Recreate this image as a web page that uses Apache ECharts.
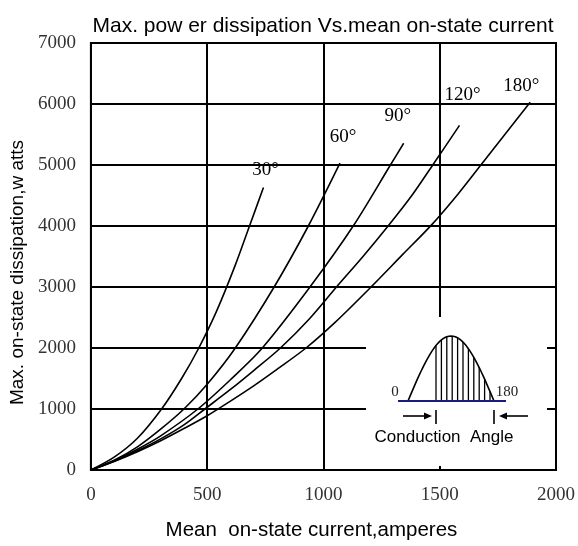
<!DOCTYPE html>
<html>
<head>
<meta charset="utf-8">
<script src="https://cdn.jsdelivr.net/npm/echarts@6/dist/echarts.min.js"></script>
<style>html,body{margin:0;padding:0;background:#fff}#c{width:578px;height:546px}</style>
</head>
<body>
<div id="c"></div>
<script>
// ---- data (current A, power W) ----
const seriesNames = ['30°', '60°', '90°', '120°', '180°'];
const curve30 = [[0,0],[100,210],[200,520],[304,1000],[390,1500],[464,2000],[540,2600],[620,3350],[682,4000],[742,4630]];
const curve60 = [[0,0],[100,160],[200,380],[300,670],[400,1000],[500,1405],[621,2000],[788,3000],[935,4000],[1071,5030]];
const curve90 = [[0,0],[100,150],[200,340],[300,560],[460,1000],[600,1480],[737,2000],[942,3000],[1128,4000],[1288,5000],[1345,5356]];
const curve120 = [[0,0],[100,145],[200,315],[300,510],[400,740],[490,1000],[600,1320],[700,1630],[815,2000],[940,2480],[1056,3000],[1170,3500],[1278,4000],[1380,4500],[1470,5000],[1585,5649]];
const curve180 = [[0,0],[100,140],[200,300],[300,480],[400,680],[500,890],[600,1130],[700,1380],[800,1650],[925,2000],[1050,2420],[1202,2990],[1340,3530],[1463,4010],[1580,4530],[1677,5000],[1780,5500],[1889,6028]];
const curves = [curve30, curve60, curve90, curve120, curve180];
const labelOffsets = [[2,-3],[3,-11],[-6,-12],[3,-15],[-9,-1]];
const xTicks = [0, 500, 1000, 1500, 2000];
const yTicks = [0, 1000, 2000, 3000, 4000, 5000, 6000, 7000];

const SERIF = '"Liberation Serif", "DejaVu Serif", serif';
const SANS = '"Liberation Sans", Arial, sans-serif';

const chart = echarts.init(document.getElementById('c'), null, {renderer: 'canvas'});

const series = curves.map((d, i) => ({
  name: seriesNames[i],
  type: 'line',
  smooth: 0.3,
  symbol: 'circle',
  symbolSize: 1,
  showSymbol: true,
  showAllSymbol: true,
  itemStyle: {color: 'rgba(0,0,0,0)'},
  z: 5,
  lineStyle: {color: '#000', width: 1.6},
  data: d.map((p, j) => j === d.length - 1 ? {
    value: p,
    label: {
      show: true, position: 'top', offset: labelOffsets[i],
      formatter: seriesNames[i], color: '#000',
      fontFamily: SERIF, fontSize: 19
    }
  } : p)
}));

// inset: half sine hump with hatching, baseline, arrows, text
const bx0 = 408, bx1 = 494, by = 401, bh = 65;
const hump = [];
for (let k = 0; k <= 40; k++) {
  const t = k / 40;
  hump.push([bx0 + t * (bx1 - bx0), by - bh * Math.sin(Math.PI * t)]);
}
const hatch = [];
for (let x = 436; x <= 490; x += 5.4) {
  const t = (x - bx0) / (bx1 - bx0);
  const h = bh * Math.sin(Math.PI * t);
  hatch.push({type: 'line', z: 10, shape: {x1: x, y1: by, x2: x, y2: by - h}, style: {stroke: '#000', lineWidth: 1.3}});
}

const graphics = [
  {type: 'rect', z: 1, shape: {x: 366, y: 317, width: 181, height: 149}, style: {fill: '#fff'}},
  {type: 'polyline', z: 10, shape: {points: hump}, style: {stroke: '#000', lineWidth: 1.6, fill: null}},
  ...hatch,
  {type: 'line', z: 11, shape: {x1: 398, y1: by, x2: 506, y2: by}, style: {stroke: '#1a1a80', lineWidth: 2}},
  {type: 'text', z: 10, x: 395, y: 392, style: {text: '0', font: '15px ' + SERIF, fill: '#222', align: 'center', verticalAlign: 'middle'}},
  {type: 'text', z: 10, x: 507, y: 392, style: {text: '180', font: '15px ' + SERIF, fill: '#222', align: 'center', verticalAlign: 'middle'}},
  // left arrow
  {type: 'line', z: 10, shape: {x1: 403, y1: 416, x2: 426, y2: 416}, style: {stroke: '#000', lineWidth: 1.6}},
  {type: 'polygon', z: 10, shape: {points: [[432,416],[424,412.5],[424,419.5]]}, style: {fill: '#000'}},
  {type: 'line', z: 10, shape: {x1: 436, y1: 410, x2: 436, y2: 424}, style: {stroke: '#000', lineWidth: 1.6}},
  // right arrow
  {type: 'line', z: 10, shape: {x1: 528, y1: 416, x2: 505, y2: 416}, style: {stroke: '#000', lineWidth: 1.6}},
  {type: 'polygon', z: 10, shape: {points: [[499,416],[507,412.5],[507,419.5]]}, style: {fill: '#000'}},
  {type: 'line', z: 10, shape: {x1: 494, y1: 410, x2: 494, y2: 424}, style: {stroke: '#000', lineWidth: 1.6}},
  {type: 'text', z: 10, x: 444, y: 437, style: {text: 'Conduction  Angle', font: '17px ' + SANS, fill: '#000', align: 'center', verticalAlign: 'middle'}}
];

chart.setOption({
  animation: false,
  backgroundColor: '#fff',
  title: {
    text: 'Max. pow er dissipation Vs.mean on-state current',
    left: 318, top: 11, textAlign: 'center',
    textStyle: {fontFamily: SANS, fontSize: 21, fontWeight: 'normal', color: '#000'}
  },
  grid: {left: 90, right: 21, top: 43, bottom: 73, show: true, borderColor: '#000', borderWidth: 2, backgroundColor: 'transparent'},
  xAxis: {
    type: 'value', min: xTicks[0], max: xTicks[xTicks.length - 1], interval: 500,
    name: 'Mean  on-state current,amperes', nameLocation: 'middle', nameGap: 50,
    nameTextStyle: {fontFamily: SANS, fontSize: 20.5, color: '#000', padding: [0, 24, 0, 0]},
    axisLine: {show: true, lineStyle: {color: '#000', width: 2}},
    axisTick: {show: true, inside: true, length: 7, lineStyle: {color: '#000', width: 2}},
    axisLabel: {margin: 16, fontFamily: SERIF, fontSize: 19, color: '#333', formatter: v => String(v)},
    splitLine: {show: true, lineStyle: {color: '#000', width: 2}}
  },
  yAxis: {
    type: 'value', min: yTicks[0], max: yTicks[yTicks.length - 1], interval: 1000,
    name: 'Max. on-state dissipation,w atts', nameLocation: 'middle', nameGap: 58,
    nameTextStyle: {fontFamily: SANS, fontSize: 19, color: '#000', padding: [0, 32, 0, 0]},
    axisLine: {show: true, lineStyle: {color: '#000', width: 2}},
    axisTick: {show: false},
    axisLabel: {margin: 15, fontFamily: SERIF, fontSize: 19, color: '#333', formatter: v => String(v)},
    splitLine: {show: true, lineStyle: {color: '#000', width: 2}}
  },
  series: series,
  graphic: graphics
});
</script>
</body>
</html>
